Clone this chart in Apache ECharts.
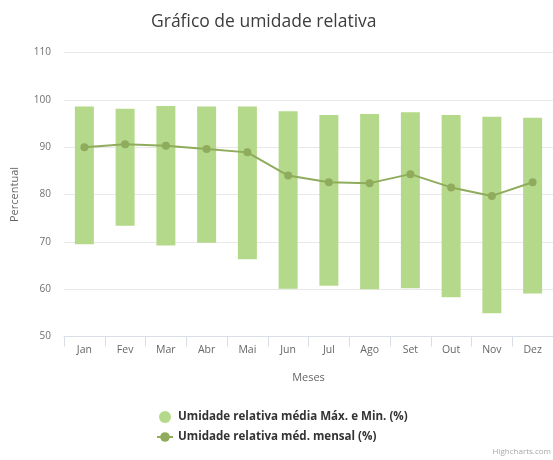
<!DOCTYPE html>
<html>
<head>
<meta charset="utf-8">
<script src="https://cdn.jsdelivr.net/npm/echarts@6/dist/echarts.min.js"></script>
<style>
  html, body { margin: 0; padding: 0; background: #fff; }
  #chart { width: 553px; height: 460px; }
</style>
</head>
<body>
<div id="chart"></div>
<script>
// Monthly relative humidity
const months = ['Jan', 'Fev', 'Mar', 'Abr', 'Mai', 'Jun', 'Jul', 'Ago', 'Set', 'Out', 'Nov', 'Dez'];
const humidityMax = [98.6, 98.1, 98.7, 98.6, 98.6, 97.6, 96.8, 97.0, 97.4, 96.8, 96.4, 96.2];
const humidityMin = [69.5, 73.4, 69.2, 69.8, 66.3, 60.1, 60.7, 60.0, 60.2, 58.3, 54.9, 59.1];
const humidityMean = [90.0, 90.6, 90.3, 89.6, 88.9, 84.0, 82.6, 82.4, 84.3, 81.5, 79.7, 82.6];
const yTicks = [50, 60, 70, 80, 90, 100, 110];

const FONT = '"Open Sans", "DejaVu Sans", sans-serif';
const barColor = '#b5d98a';
const lineColor = '#8fac5c';

// Height of each floating bar, stacked on top of an invisible base at the minimum
const humidityRange = humidityMax.map((v, i) => +(v - humidityMin[i]).toFixed(2));

const gridPos = { left: 64, width: 492, top: 52.5, bottom: 123.5 };

const chart = echarts.init(document.getElementById('chart'), null, { renderer: 'canvas' });

chart.setOption({
  animation: false,
  backgroundColor: '#ffffff',
  textStyle: { fontFamily: FONT },
  title: {
    text: 'Gráfico de umidade relativa',
    left: 146,
    top: 8,
    textStyle: { fontFamily: FONT, fontSize: 17.5, fontWeight: 'normal', color: '#3d3d3d' }
  },
  legend: {
    orient: 'vertical',
    left: 151,
    top: 406,
    itemGap: 8,
    itemWidth: 16,
    itemHeight: 12,
    textStyle: { fontFamily: FONT, fontSize: 11.6, fontWeight: 'bold', color: '#333333' },
    data: [
      { name: 'Umidade relativa média Máx. e Min. (%)', icon: 'circle' },
      { name: 'Umidade relativa méd. mensal (%)' }
    ]
  },
  graphic: [{
    type: 'text',
    right: 2,
    bottom: 4,
    style: { text: 'Highcharts.com', fill: '#a8a8a8', font: '8px ' + FONT }
  }],
  grid: gridPos,
  xAxis: {
    type: 'category',
    data: months,
    name: 'Meses',
    nameLocation: 'middle',
    nameGap: 36,
    nameTextStyle: { fontFamily: FONT, fontSize: 11, color: '#666666' },
    boundaryGap: true,
    axisLine: { lineStyle: { color: '#d8dde6', width: 1 } },
    axisTick: { show: true, alignWithLabel: false, length: 10, lineStyle: { color: '#d8dde6' } },
    axisLabel: { fontFamily: FONT, fontSize: 10.5, color: '#666666', margin: 8 },
    splitLine: { show: false }
  },
  yAxis: {
    type: 'value',
    min: 50,
    max: 110,
    interval: 10,
    name: 'Percentual',
    nameLocation: 'middle',
    nameGap: 44,
    nameRotate: 90,
    nameTextStyle: { fontFamily: FONT, fontSize: 11, color: '#666666' },
    axisLine: { show: false },
    axisTick: { show: false },
    axisLabel: {
      fontFamily: FONT, fontSize: 10, color: '#707070', margin: 13,
      verticalAlign: 'middle', padding: [0, 0, 5, 0],
      customValues: yTicks
    },
    splitLine: { lineStyle: { color: '#e8e8e8', width: 1 } }
  },
  series: [
    {
      name: 'base',
      type: 'bar',
      stack: 'range',
      data: humidityMin,
      barWidth: 19,
      itemStyle: { color: 'transparent' },
      silent: true,
      legendHoverLink: false
    },
    {
      name: 'Umidade relativa média Máx. e Min. (%)',
      type: 'bar',
      stack: 'range',
      data: humidityRange,
      barWidth: 19,
      itemStyle: { color: barColor }
    },
    {
      name: 'Umidade relativa méd. mensal (%)',
      type: 'line',
      data: humidityMean,
      symbol: 'circle',
      symbolSize: 8,
      lineStyle: { color: lineColor, width: 2 },
      itemStyle: { color: lineColor },
      z: 5
    }
  ]
});
</script>
</body>
</html>
